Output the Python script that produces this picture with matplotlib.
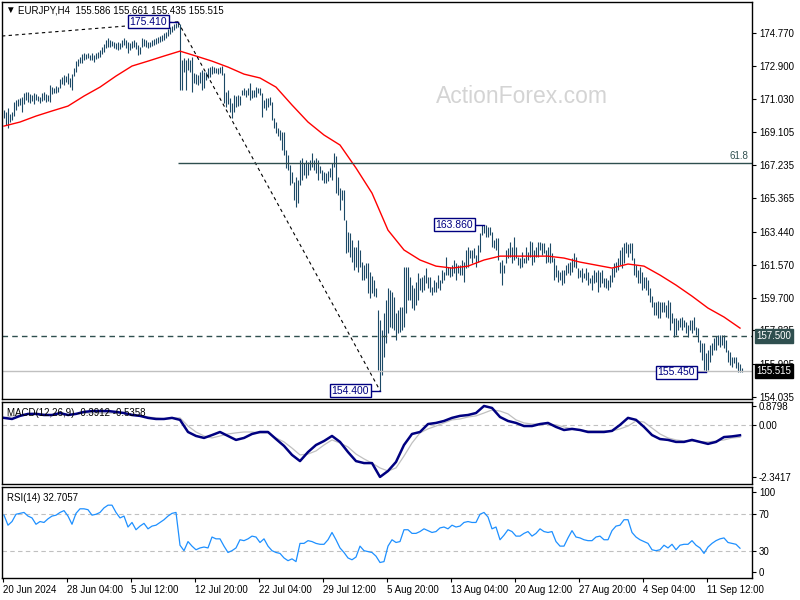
import numpy as np
import matplotlib.pyplot as plt
import matplotlib.transforms as mtransforms

plt.rcParams['font.family'] = ['Liberation Sans', 'DejaVu Sans']

# EURJPY H4 bars (high / low), 20 Jun - 13 Sep 2024
high = [
    170.38, 170.27, 170.50, 170.15, 170.27, 170.84, 170.95, 171.01, 171.07, 171.12,
    171.35, 171.41, 171.41, 171.29, 171.24, 171.35, 171.29, 171.18, 171.12, 171.35,
    171.41, 171.29, 171.24, 171.81, 171.69, 171.64, 171.75, 171.69, 172.15, 172.26,
    172.38, 172.32, 172.49, 172.21, 172.43, 172.78, 173.17, 173.29, 173.40, 173.57,
    173.63, 173.57, 173.63, 173.52, 173.63, 173.52, 173.63, 173.69, 173.80, 173.97,
    174.14, 174.37, 174.49, 174.37, 174.31, 174.26, 174.20, 174.26, 174.20, 174.37,
    174.49, 174.37, 174.26, 174.20, 174.31, 174.37, 174.26, 174.09, 173.97, 174.49,
    174.43, 174.37, 174.26, 174.26, 174.37, 174.43, 174.49, 174.54, 174.60, 174.66,
    174.77, 174.83, 175.00, 175.11, 175.17, 175.28, 175.34, 175.41, 175.28, 173.23,
    173.35, 173.23, 173.35, 173.23, 173.40, 172.49, 172.43, 172.38, 172.55, 172.66,
    172.55, 172.55, 172.78, 172.83, 172.89, 172.83, 172.78, 172.78, 172.83, 172.89,
    172.49, 171.41, 171.52, 171.07, 170.78, 171.24, 171.18, 171.24, 171.18, 171.52,
    171.64, 171.52, 171.64, 171.92, 171.52, 171.52, 171.69, 171.64, 171.64, 171.35,
    170.95, 171.07, 171.07, 171.12, 170.84, 169.93, 169.70, 169.36, 169.24, 169.13,
    169.13, 168.10, 167.82, 167.25, 166.85, 166.28, 166.56, 166.39, 167.53, 167.65,
    167.36, 167.53, 167.42, 167.53, 167.93, 167.53, 167.65, 167.53, 167.19, 166.96,
    166.85, 166.79, 166.91, 167.08, 167.36, 167.93, 167.76, 166.56, 165.94, 165.82,
    165.82, 164.11, 163.43, 163.37, 162.97, 162.58, 162.58, 162.97, 162.41, 161.72,
    161.55, 161.66, 161.66, 161.15, 160.92, 160.70, 160.24, 158.99, 158.42, 157.85,
    158.82, 159.56, 160.24, 160.13, 160.01, 159.73, 158.82, 158.99, 159.16, 159.16,
    161.44, 161.44, 161.44, 160.87, 160.41, 160.24, 160.58, 161.09, 160.81, 160.87,
    160.98, 161.38, 160.87, 160.87, 160.30, 160.70, 160.58, 160.98, 160.70, 161.27,
    161.15, 162.01, 161.44, 161.44, 161.55, 161.84, 161.66, 161.55, 161.55, 161.84,
    161.72, 162.41, 162.58, 162.41, 162.41, 162.52, 162.12, 162.69, 163.37, 163.83,
    163.86, 163.83, 163.71, 163.71, 163.43, 162.97, 163.09, 163.09, 161.72, 161.84,
    161.55, 162.41, 162.52, 162.86, 162.58, 163.15, 162.58, 162.01, 161.95, 162.29,
    161.95, 162.58, 162.29, 162.92, 162.86, 162.41, 162.58, 162.86, 162.86, 162.80,
    162.80, 162.41, 162.58, 162.80, 162.23, 161.95, 161.55, 161.27, 161.15, 161.27,
    161.27, 161.55, 161.66, 161.72, 161.95, 162.23, 162.01, 161.38, 161.27, 161.38,
    161.09, 161.38, 161.15, 160.81, 160.98, 161.27, 161.15, 161.27, 161.15, 161.27,
    160.81, 160.81, 160.70, 160.98, 161.38, 161.66, 161.72, 161.95, 162.41, 162.58,
    162.80, 162.86, 162.75, 162.80, 162.80, 161.95, 161.55, 161.27, 161.44, 161.15,
    160.87, 160.87, 160.70, 160.24, 159.78, 159.44, 159.44, 159.50, 159.44, 159.44,
    159.44, 159.27, 159.56, 159.44, 158.82, 158.53, 158.53, 158.42, 158.53, 158.59,
    158.42, 158.30, 158.13, 158.42, 158.42, 158.59, 158.02, 157.96, 157.28, 157.10,
    157.10, 156.54, 156.71, 156.99, 157.10, 157.39, 157.50, 157.56, 157.56, 157.56,
    157.56, 157.28, 156.71, 156.59, 156.31, 156.31, 156.31, 156.02, 155.91, 155.66,
]
low = [
    169.93, 169.53, 169.36, 169.70, 169.81, 170.04, 170.38, 170.61, 170.67, 170.27,
    170.72, 170.95, 170.84, 170.78, 170.89, 170.72, 170.95, 170.89, 170.78, 170.89,
    170.95, 170.84, 170.89, 170.84, 171.29, 171.35, 171.35, 171.41, 171.64, 171.86,
    171.81, 171.98, 171.86, 171.69, 171.52, 172.32, 172.55, 172.89, 173.06, 173.06,
    173.23, 173.29, 173.35, 173.23, 173.23, 173.12, 173.29, 173.35, 173.40, 173.57,
    173.69, 173.92, 173.97, 173.97, 174.03, 173.92, 173.86, 173.80, 173.86, 173.97,
    174.09, 173.92, 173.63, 173.80, 173.92, 173.97, 173.86, 173.52, 173.57, 173.97,
    174.03, 173.97, 173.92, 173.97, 174.03, 174.09, 174.14, 174.20, 174.26, 174.31,
    174.37, 174.49, 174.60, 174.71, 174.83, 174.94, 175.05, 175.11, 171.52, 171.52,
    172.55, 171.52, 172.66, 172.55, 171.41, 171.92, 171.86, 171.81, 171.92, 171.52,
    171.64, 172.09, 172.21, 172.26, 172.43, 172.49, 172.49, 172.43, 172.49, 172.38,
    170.78, 170.55, 170.72, 170.27, 169.93, 170.27, 170.55, 170.61, 170.67, 171.24,
    171.24, 171.12, 171.24, 170.95, 171.07, 171.12, 171.12, 171.35, 171.24, 169.98,
    170.50, 170.38, 170.55, 170.67, 169.81, 169.36, 169.07, 168.90, 168.67, 168.10,
    167.82, 167.08, 166.96, 166.11, 166.22, 165.25, 164.85, 165.08, 166.11, 166.39,
    166.68, 166.51, 166.68, 166.96, 167.13, 166.96, 166.79, 166.39, 166.79, 166.39,
    166.22, 166.22, 166.34, 166.56, 166.39, 167.13, 165.65, 165.54, 164.68, 165.25,
    164.11, 162.23, 162.29, 162.01, 161.72, 161.27, 161.44, 161.15, 161.44, 160.70,
    160.70, 160.81, 159.96, 159.67, 159.96, 159.78, 159.73, 155.57, 154.40, 155.28,
    156.31, 157.10, 157.68, 158.02, 157.96, 157.85, 157.28, 157.68, 157.73, 157.85,
    158.02, 158.82, 159.56, 159.56, 159.10, 158.99, 159.27, 159.56, 160.13, 160.01,
    160.13, 160.52, 160.24, 160.01, 159.84, 160.01, 160.01, 160.24, 160.13, 160.52,
    160.70, 160.98, 160.98, 160.87, 160.92, 161.09, 160.70, 161.09, 160.98, 160.98,
    160.58, 161.38, 161.44, 161.95, 161.66, 161.95, 161.44, 161.72, 162.29, 163.26,
    163.37, 163.15, 163.15, 163.26, 162.58, 162.52, 162.41, 161.84, 161.09, 160.41,
    161.09, 161.66, 161.95, 162.01, 161.66, 161.84, 161.95, 161.55, 161.38, 161.44,
    161.66, 161.66, 161.84, 162.01, 161.55, 161.72, 162.01, 162.01, 162.41, 162.12,
    162.23, 161.66, 161.72, 161.66, 161.72, 160.70, 160.87, 160.58, 160.70, 160.41,
    160.52, 160.98, 161.09, 160.98, 161.15, 161.44, 161.38, 160.81, 160.87, 160.58,
    160.81, 160.70, 160.41, 160.52, 160.13, 160.52, 160.58, 160.01, 160.30, 160.52,
    160.30, 160.24, 160.13, 160.30, 160.58, 160.87, 161.15, 161.27, 161.55, 161.38,
    161.66, 162.23, 162.01, 162.23, 161.84, 160.98, 160.87, 160.52, 160.52, 160.13,
    160.24, 160.13, 159.84, 159.44, 159.16, 158.70, 158.70, 158.53, 158.53, 158.87,
    158.87, 158.59, 158.53, 157.85, 158.25, 157.45, 157.56, 157.85, 158.02, 157.85,
    158.02, 157.68, 157.45, 157.85, 157.68, 157.85, 157.56, 157.16, 156.59, 156.14,
    155.57, 155.45, 155.57, 156.02, 156.42, 156.71, 156.71, 156.99, 156.88, 156.99,
    156.82, 156.59, 156.02, 155.85, 155.74, 155.97, 155.68, 155.47, 155.47, 155.44,
]

# red moving average, one reading every 8 bars
ma = [169.47, 169.70, 170.04, 170.33, 170.61, 171.18, 171.69, 172.32, 172.89, 173.17,
      173.46, 173.74, 173.46, 173.17, 172.83, 172.43, 172.21, 171.69, 170.67, 169.70,
      168.96, 168.39, 167.08, 165.65, 163.54, 162.41, 161.84, 161.49, 161.38, 161.49,
      161.84, 162.06, 162.06, 162.06, 162.06, 161.95, 161.72, 161.55, 161.38, 161.61,
      161.49, 160.98, 160.41, 159.78, 159.10, 158.59, 157.96]

# MACD(12,26,9), one reading every 4 bars
macd_main = [0.34, 0.29, 0.43, 0.52, 0.52, 0.47, 0.47, 0.56, 0.47, 0.52,
             0.61, 0.65, 0.65, 0.65, 0.61, 0.56, 0.47, 0.43, 0.34, 0.29,
             0.29, 0.34, 0.25, -0.30, -0.48, -0.57, -0.44, -0.30, -0.48, -0.66,
             -0.57, -0.39, -0.30, -0.30, -0.62, -0.93, -1.34, -1.62, -1.21, -0.89,
             -0.71, -0.48, -0.75, -1.21, -1.62, -1.71, -1.71, -2.34, -2.07, -1.66,
             -0.89, -0.39, -0.30, 0.06, 0.11, 0.20, 0.34, 0.43, 0.47, 0.56,
             0.88, 0.79, 0.38, 0.20, 0.11, -0.03, -0.03, 0.06, 0.11, -0.07,
             -0.21, -0.16, -0.21, -0.30, -0.30, -0.30, -0.25, 0.02, 0.34, 0.25,
             -0.07, -0.44, -0.62, -0.66, -0.75, -0.75, -0.66, -0.75, -0.84, -0.75,
             -0.53, -0.50, -0.45]
macd_signal = [0.34, 0.43, 0.47, 0.52, 0.56, 0.52, 0.47, 0.47, 0.47, 0.52,
               0.56, 0.56, 0.56, 0.56, 0.56, 0.56, 0.52, 0.47, 0.38, 0.34,
               0.29, 0.34, 0.34, -0.03, -0.30, -0.48, -0.57, -0.48, -0.39, -0.34,
               -0.30, -0.30, -0.34, -0.34, -0.57, -0.75, -1.03, -1.34, -1.30, -1.16,
               -0.89, -0.66, -0.80, -0.98, -1.30, -1.52, -1.71, -1.93, -2.07, -1.93,
               -1.39, -0.80, -0.34, -0.16, -0.03, 0.11, 0.25, 0.29, 0.38, 0.43,
               0.56, 0.70, 0.65, 0.52, 0.25, 0.11, 0.06, 0.06, 0.06, 0.02,
               -0.07, -0.16, -0.21, -0.25, -0.25, -0.25, -0.25, -0.16, -0.03, 0.20,
               0.15, -0.12, -0.39, -0.57, -0.66, -0.71, -0.71, -0.75, -0.75, -0.71,
               -0.66, -0.57, -0.54]

# RSI(14), one reading every 2 bars
rsi = [69, 58, 62, 70, 71, 72, 68, 66, 59, 62,
       61, 65, 68, 69, 72, 74, 68, 59, 71, 76,
       76, 75, 69, 70, 72, 77, 80, 80, 72, 66,
       68, 56, 61, 53, 57, 60, 54, 57, 58, 61,
       64, 68, 71, 72, 36, 30, 40, 35, 31, 33,
       34, 33, 45, 43, 43, 35, 28, 30, 33, 42,
       41, 43, 46, 45, 39, 43, 35, 30, 28, 27,
       22, 19, 21, 18, 38, 38, 41, 40, 38, 37,
       37, 42, 50, 42, 33, 28, 22, 20, 23, 35,
       30, 29, 28, 24, 17, 18, 35, 42, 39, 40,
       53, 53, 49, 49, 51, 54, 52, 50, 51, 55,
       56, 54, 58, 56, 57, 61, 62, 61, 61, 70,
       72, 67, 54, 56, 42, 47, 53, 51, 46, 46,
       49, 51, 46, 49, 54, 51, 50, 51, 40, 35,
       35, 44, 52, 45, 44, 42, 41, 41, 45, 46,
       42, 42, 52, 57, 58, 64, 64, 50, 45, 42,
       40, 38, 31, 30, 31, 36, 33, 37, 31, 36,
       37, 37, 41, 36, 33, 27, 34, 38, 41, 43,
       44, 39, 38, 37, 32.7]

price_ticks = [174.770, 172.900, 171.030, 169.105, 167.235, 165.365,
               163.440, 161.570, 159.700, 157.835, 155.905, 154.035]
date_labels = ['20 Jun 2024', '28 Jun 04:00', '5 Jul 12:00', '12 Jul 20:00',
               '22 Jul 04:00', '29 Jul 12:00', '5 Aug 20:00', '13 Aug 04:00',
               '20 Aug 12:00', '27 Aug 20:00', '4 Sep 04:00', '11 Sep 12:00']
header = 'EURJPY,H4  155.586 155.661 155.435 155.515'
last_close = 155.515
level = 157.500
trend_start = 174.60

bar_col = '#1c4966'
navy = '#000080'
slate = '#2f4f4f'
n = len(high)
xr = (-1, n + 4)

fig = plt.figure(figsize=(8, 6), dpi=100)
ax = fig.add_axes([0.0025, 0.335, 0.9375, 0.6617])
am = fig.add_axes([0.0025, 0.1933, 0.9375, 0.1367])
ar = fig.add_axes([0.0025, 0.0367, 0.9375, 0.1517])

# price panel
ax.text(0.693, 0.763, 'ActionForex.com', transform=ax.transAxes, fontsize=16.5,
        color='#d4d4d4', ha='center', va='center', zorder=0)
ax.vlines(np.arange(n), low, high, color=bar_col, lw=0.8)
ax.plot(np.arange(len(ma)) * 8, ma, color='red', lw=1)

top_i = int(np.argmax(high))
bot_i = int(np.argmin(low))
swing_i = 200 + int(np.argmax(high[200:300]))
recent_i = 300 + int(np.argmin(low[300:360]))

dash = (0, (3, 3))
ax.plot([xr[0], top_i], [trend_start, high[top_i]], color='black', lw=0.8, ls=dash)
ax.plot([top_i, bot_i], [high[top_i], low[bot_i]], color='black', lw=0.8, ls=dash)

fib = low[bot_i] + 0.618 * (high[top_i] - low[bot_i])
ax.hlines(fib, top_i, xr[1], color=slate, lw=1)
ax.text(xr[1] - 2, fib + 0.08, '61.8', ha='right', va='bottom', fontsize=7, color=slate)

ax.axhline(level, color=slate, lw=1, ls=(0, (4, 3)))
ax.axhline(last_close, color='#c0c0c0', lw=1)


def tag(i, price):
    ax.plot([i - 5, i], [price, price], color=navy, lw=1)
    ax.text(i - 5.5, price, '%.3f' % price, ha='right', va='center', fontsize=7.5,
            color=navy, bbox=dict(boxstyle='square,pad=0.15', fc='white', ec=navy, lw=1))


tag(top_i, high[top_i])
tag(swing_i, high[swing_i])
tag(bot_i, low[bot_i])
tag(recent_i, low[recent_i])

trans = mtransforms.blended_transform_factory(ax.transAxes, ax.transData)
ax.text(1.006, level, '%.3f' % level, transform=trans, ha='left', va='center', fontsize=7,
        color='white', zorder=5, bbox=dict(boxstyle='square,pad=0.2', fc=slate, ec=slate))
ax.text(1.006, last_close, '%.3f' % last_close, transform=trans, ha='left', va='center',
        fontsize=7, color='white', zorder=5,
        bbox=dict(boxstyle='square,pad=0.2', fc='black', ec='black'))

ax.set_xlim(*xr)
ax.set_ylim(153.92, 176.54)
ax.yaxis.tick_right()
ax.set_yticks(price_ticks, ['%.3f' % t for t in price_ticks])
ax.set_xticks([])

# MACD panel
mx = np.arange(len(macd_main)) * 4
am.axhline(0, color='#c0c0c0', lw=0.8, ls=(0, (4, 3)))
am.plot(mx, macd_signal, color='#c0c0c0', lw=0.9)
am.plot(mx, macd_main, color=navy, lw=1.8)
am.set_xlim(*xr)
am.set_ylim(-2.66, 1.06)
am.yaxis.tick_right()
am.set_yticks([0.8798, 0.0, -2.3417], ['0.8798', '0.00', '-2.3417'])
am.set_xticks([])
am.text(0.007, 0.93, 'MACD(12,26,9) -0.3912 -0.5358', transform=am.transAxes,
        fontsize=7, va='top')

# RSI panel
for lv in (70, 30):
    ar.axhline(lv, color='#c0c0c0', lw=0.8, ls=(0, (4, 3)))
ar.plot(np.arange(len(rsi)) * 2, rsi, color='#1e90ff', lw=0.9)
ar.set_xlim(*xr)
ar.set_ylim(0, 100)
ar.yaxis.tick_right()
ar.set_yticks([94.5, 70, 30, 6.5], ['100', '70', '30', '0'])
ar.set_xticks(np.arange(len(date_labels)) * 32 - 0.5, date_labels)
for t in ar.get_xticklabels():
    t.set_ha('left')
ar.text(0.007, 0.93, 'RSI(14) 32.7057', transform=ar.transAxes, fontsize=7, va='top')

for a in (ax, am, ar):
    a.tick_params(labelsize=7, length=3, pad=2, width=0.8)
    for s in a.spines.values():
        s.set_linewidth(1)

fig.text(0.006, 0.983, '\u25bc', fontsize=7, va='center')
fig.text(0.022, 0.983, header, fontsize=7, va='center')

fig.savefig('out.png', dpi=100)
